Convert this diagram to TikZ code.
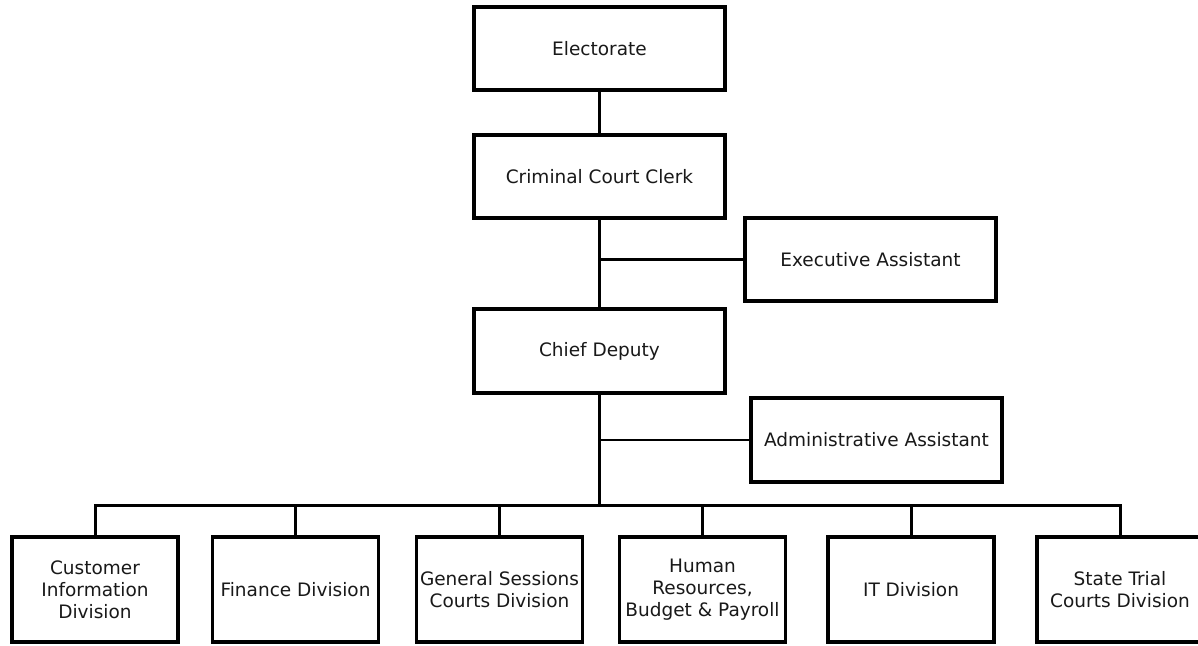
\documentclass[tikz,border=0pt]{standalone}
\usepackage{fontspec}
\setmainfont{DejaVu Sans}
\begin{document}
\begin{tikzpicture}[x=1pt,y=-1pt,
  box/.style={draw=black,line width=3.6pt,fill=white,inner sep=0pt,align=center,
    font=\fontsize{18.5}{22}\selectfont,text=black!90},
  topbox/.style={box,minimum width=251pt,minimum height=83pt},
  divbox/.style={box,minimum width=166pt,minimum height=105pt},
  link/.style={line width=3pt},
  side/.style={line width=2.6pt}]
\path[use as bounding box] (0,0) rectangle (1198,645);
\clip (0,0) rectangle (1198,645);
\node[topbox] (elec) at (599.5,48.5) {Electorate};
\node[topbox] (ccc) at (599.5,176.5) {Criminal Court Clerk};
\node[topbox] (exec) at (870.5,259.5) {Executive Assistant};
\node[topbox,minimum height=84pt] (chief) at (599.5,351) {Chief Deputy};
\node[topbox,minimum height=84pt] (admin) at (876.5,440) {Administrative Assistant};
\node[divbox] (b1) at (95,589.5) {Customer\\Information\\Division};
\node[divbox] (b2) at (295.5,589.5) {Finance Division};
\node[divbox] (b3) at (499.5,589.5) {General Sessions\\Courts Division};
\node[divbox] (b4) at (702.5,589.5) {Human\\Resources,\\Budget \& Payroll};
\node[divbox] (b5) at (911,589.5) {IT Division};
\node[divbox] (b6) at (1120,589.5) {State Trial\\Courts Division};
\coordinate (bus) at (599.5,505);
\draw[link] (elec.south) -- (ccc.north);
\draw[link] (ccc.south) -- (chief.north);
\draw[side] (ccc.south |- exec.west) -- (exec.west);
\draw[link] (chief.south) -- (bus);
\draw[side] (chief.south |- admin.west) -- (admin.west);
\draw[link] (b1.north) |- (bus) -| (b6.north);
\foreach \b in {b2,b3,b4,b5} \draw[link] (\b.north) -- (\b.north |- bus);
\end{tikzpicture}
\end{document}
